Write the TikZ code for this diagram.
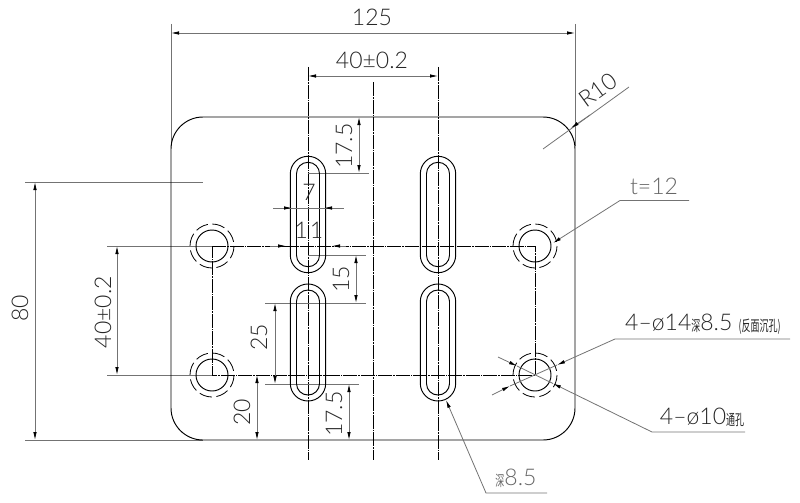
\documentclass[tikz,border=0pt]{standalone}
\usepackage{graphicx}
\usepackage{fontspec}
\setmainfont{Lato Light}
\newfontfamily\cjk{Noto Sans CJK SC}
\newcommand{\zh}[1]{\raisebox{-1pt}{\scalebox{0.6}[1]{\cjk\fontsize{15}{15}\selectfont #1}}}
\usetikzlibrary{arrows.meta}
\definecolor{dimc}{gray}{0.45}
\definecolor{txt}{gray}{0.15}
\definecolor{txtl}{gray}{0.4}
\tikzset{
 outline/.style={black,line width=0.95pt},
 cline/.style={black,line width=0.8pt,dash pattern=on 14pt off 1pt on 1.5pt off 1pt},
 hidden/.style={black,line width=0.8pt,dash pattern=on 12.8pt off 4.5pt},
 dimline/.style={dimc,line width=0.8pt},
 dimarrow/.style={dimc,line width=0.8pt,{Latex[black,length=8pt,width=3.5pt]}-{Latex[black,length=8pt,width=3.5pt]}},
 leadarrow/.style={dimc,line width=0.8pt,-{Latex[black,length=8pt,width=3.5pt]}},
 label/.style={text=txt,font=\fontsize{23}{23}\selectfont,inner sep=0pt},
 labell/.style={text=txtl,font=\fontsize{23}{23}\selectfont,inner sep=0pt},
}
\begin{document}
\begin{tikzpicture}[x=1pt,y=-1pt]
\useasboundingbox (0,0) rectangle (800,503);
% centre lines
\foreach \xx/\ya in {308/67,373/82,438/67}{\draw[cline] (\xx,\ya) -- (\xx,460);}
\draw[cline] (212,246) -- (535,246) -- (535,375) -- (212,375) -- cycle;
% extension lines
\draw[dimline] (171,24) -- (171,146);
\draw[dimline] (575,24) -- (575,146);
\draw[dimline] (25,182) -- (203,182);
\draw[dimline] (25,440) -- (203,440);
\draw[dimline] (107,246) -- (212,246);
\draw[dimline] (107,375) -- (212,375);
\draw[dimline] (308,173) -- (369,173);
\draw[dimline] (308,255) -- (366,255);
\draw[dimline] (265,303) -- (366,303);
\draw[dimline] (265,384) -- (359,384);
% plate
\draw[outline,rounded corners=32pt] (171,117) rectangle (575,440);
% holes
\foreach \hx/\hy in {212/246,535/246,212/375,535/375}{
 \draw[outline] (\hx,\hy) circle[radius=16];
 \draw[hidden] (\hx,\hy) circle[radius=22];
}
% slots
\foreach \sx/\ta/\tb in {308/156.3/272.7,438/156.3/272.7,308/284/401,438/284/401}{
 \draw[outline,rounded corners=17.6pt] (\sx-17.7,\ta) rectangle (\sx+17.7,\tb);
 \draw[outline,rounded corners=11.4pt] (\sx-11.5,\ta+6) rectangle (\sx+11.5,\tb-6);
}
% dimensions
\draw[dimarrow] (171,33) -- (575,33);
\draw[dimarrow] (308,76) -- (438,76);
\draw[dimarrow] (35,182) -- (35,440);
\draw[dimarrow] (117,246) -- (117,375);
\draw[dimarrow] (359,117) -- (359,173);
\draw[dimarrow] (356,255) -- (356,303);
\draw[dimarrow] (275,303) -- (275,384);
\draw[dimarrow] (349,384) -- (349,440);
\draw[dimarrow] (257,375) -- (257,440);
% 11 and 7 outside arrows
\draw[dimline] (273,208) -- (344,208);
\draw[leadarrow] (280,208) -- (292,208);
\draw[leadarrow] (337,208) -- (324,208);
\draw[leadarrow] (270,246) -- (286,246);
\draw[leadarrow] (346,246) -- (332,246);
% leaders
\draw[dimline] (543,149) -- (629,87);
\draw[leadarrow] (590,115) -- (571,128);
\draw[leadarrow] (689,200.5) -- (620,200.5) -- (553,243);
\draw[leadarrow] (790,339) -- (615,339) -- (557,365);
\draw[dimline] (557,365) -- (510,386);
\draw[leadarrow] (492,395) -- (510,386);
\draw[leadarrow] (745,432) -- (652,432) -- (553,383.5);
\draw[dimline] (553,383.5) -- (517,366);
\draw[leadarrow] (498,357) -- (517,366);
\draw[leadarrow] (547,493) -- (486,493) -- (446,400);
% labels
\node[label] (d125) at (372,17) {125};
\node[label] (d40a) at (372,60) {40±0.2};
\node[label,rotate=90] (d80) at (20,308) {80};
\node[label,rotate=90] (d40b) at (103,312) {40±0.2};
\node[label,rotate=90] (d175a) at (344,146) {17.5};
\node[label,rotate=90] (d15) at (341,279) {15};
\node[label,rotate=90] (d25) at (259,337) {25};
\node[label,rotate=90] (d175b) at (334,414) {17.5};
\node[label,rotate=90] (d20) at (242,412) {20};
\node[label] (d7) at (309,192) {7};
\node[label] (d11) at (309,230) {1\kern2pt 1};
\node[label,rotate=36] (r10) at (598,90) {R10};
\node[labell] (t12) at (654,186) {t=12};
\node[label] (h14) at (703,324) {4–ø14\zh{深}8.5 \zh{(反面沉孔)}};
\node[label] (h10) at (702,417) {4–ø10\zh{通孔}};
\node[labell] (d85) at (516,478) {\zh{深}8.5};
\end{tikzpicture}
\end{document}
